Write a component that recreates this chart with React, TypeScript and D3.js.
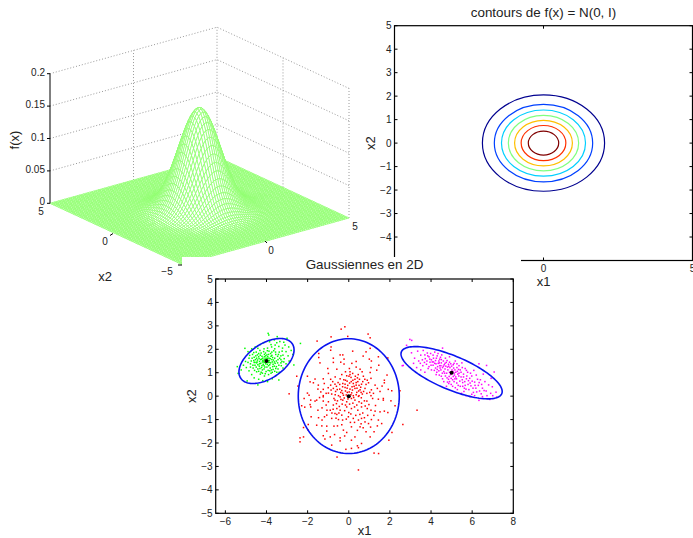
import React from 'react';
import * as d3 from 'd3';

const WIDTH = 693;
const HEIGHT = 538;
const FONT = '"Liberation Sans", Arial, sans-serif';

// surface grid: x1 and x2 run over -5..5, step 0.125, f(x1, x2) = g(|x1|) * g(|x2|)
const gridHalf = [0, 0.125, 0.25, 0.375, 0.5, 0.625, 0.75, 0.875, 1, 1.125, 1.25, 1.375, 1.5, 1.625, 1.75, 1.875, 2, 2.125, 2.25, 2.375, 2.5, 2.625, 2.75, 2.875, 3, 3.125, 3.25, 3.375, 3.5, 3.625, 3.75, 3.875, 4, 4.125, 4.25, 4.375, 4.5, 4.625, 4.75, 4.875, 5];
const profile = [0.3989, 0.3958, 0.3866, 0.3718, 0.3521, 0.3282, 0.3011, 0.2721, 0.242, 0.2119, 0.1826, 0.155, 0.1295, 0.1065, 0.0863, 0.0688, 0.054, 0.0417, 0.0317, 0.0238, 0.0175, 0.0127, 0.0091, 0.0064, 0.0044, 0.003, 0.002, 0.0013, 0.0009, 0.0006, 0.0004, 0.0002, 0.0001, 0.0001, 0, 0, 0, 0, 0, 0, 0];
const zTicks = [0, 0.05, 0.1, 0.15, 0.2];
const zLabels = ['0', '0.05', '0.1', '0.15', '0.2'];

// contour levels, outermost first
const contourRadii = [2.05, 1.65, 1.41, 1.18, 0.97, 0.75, 0.51];
const contourColors = ['#00008f', '#0040ff', '#00cfff', '#80ff80', '#ffbf00', '#ff3000', '#800000'];
// ticks at -5 sit under the pasted third figure
const contourYTicks = [-4, -3, -2, -1, 0, 1, 2, 3, 4, 5];
const contourXTicks = [0, 5];

// gaussians: mean, half extents of the blue ellipse, correlation
const means = [[-4, 1.5], [0, 0], [5, 1]];
const ellipseDx = [1.34, 2.456, 2.46];
const ellipseDy = [0.96, 2.45, 1.115];
const ellipseRho = [0.49, 0, -0.72];
const scatterXTicks = [-6, -4, -2, 0, 2, 4, 6, 8];
const scatterYTicks = [-5, -4, -3, -2, -1, 0, 1, 2, 3, 4, 5];

const greenPoints = [
  [-3.92, 2.68], [-3.89, 2.61], [-5.05, 2.04], [-5.42, 1.26], [-5.23, 1.12], [-5.38, 0.97], [-4.94, 0.65], [-4.42, 0.48], [-3.4, 0.69], [-3.48, 2.54], [-3, 2.47], [-2.35, 2.25], [-2.67, 1.33], [-3.16, 2.3],
  [-4.9, 1.9], [-4.72, 2.02], [-4.55, 2.1], [-4.3, 2.2], [-4.15, 2.28], [-3.85, 2.32], [-3.62, 2.4], [-3.35, 2.33], [-3.1, 2.18], [-2.92, 2.1], [-2.8, 1.95], [-2.72, 1.78], [-2.95, 1.72], [-3.05, 1.9], [-3.22, 2.05], [-3.4, 2.12], [-3.58, 2.18], [-3.75, 2.1], [-3.95, 2.05], [-4.12, 2.02], [-4.32, 1.95], [-4.5, 1.88], [-4.68, 1.78], [-4.85, 1.62], [-5.02, 1.48], [-5.12, 1.32],
  [-4.98, 1.22], [-4.85, 1.08], [-4.72, 0.92], [-4.6, 0.78], [-4.38, 0.72], [-4.18, 0.66], [-3.95, 0.62], [-3.72, 0.74], [-3.55, 0.88], [-3.38, 1.02], [-3.2, 1.2], [-3.05, 1.38], [-3.25, 1.48], [-3.4, 1.32], [-3.55, 1.18], [-3.72, 1.02], [-3.9, 0.92], [-4.1, 0.86], [-4.3, 0.94], [-4.48, 1.04],
  [-4.65, 1.2], [-4.78, 1.38], [-4.62, 1.52], [-4.48, 1.42], [-4.35, 1.28], [-4.2, 1.12], [-4.02, 1.05], [-3.82, 1.2], [-3.68, 1.36], [-3.52, 1.5], [-3.36, 1.62], [-3.2, 1.75], [-3.38, 1.88], [-3.55, 1.78], [-3.7, 1.65], [-3.86, 1.52], [-4.04, 1.38], [-4.2, 1.46], [-4.36, 1.6], [-4.52, 1.72],
  [-4.38, 1.82], [-4.22, 1.7], [-4.08, 1.58], [-3.94, 1.68], [-3.8, 1.82], [-3.65, 1.94], [-3.88, 1.92], [-4.05, 1.84], [-4.18, 1.52], [-4.28, 1.4], [-4.12, 1.3], [-3.98, 1.24], [-3.84, 1.34], [-3.72, 1.46], [-3.9, 1.44], [-4.08, 1.44], [-4.24, 1.58], [-4.44, 1.54], [-4.56, 1.32], [-4.42, 1.16],
  [-4.26, 1.02], [-4.12, 1.16], [-3.92, 1.1], [-3.78, 0.98], [-3.62, 1.28], [-3.46, 1.42], [-3.3, 1.56], [-3.14, 1.6], [-4.7, 1.62], [-4.9, 1.44], [-4.78, 1.24], [-4.58, 1.1], [-3.98, 1.76], [-4.14, 1.9], [-3.74, 1.74], [-3.6, 1.62], [-4.02, 1.5], [-3.96, 1.6], [-4.1, 1.68], [-4.3, 1.75],
  [-3.82, 1.6], [-4.16, 1.36], [-4.34, 1.48], [-4.48, 1.62], [-3.76, 1.12], [-3.5, 1.02], [-3.28, 1.3], [-3.46, 1.7], [-3.24, 1.92], [-3.6, 2.02],
  [-4.6, 1.44], [-4.54, 1.56], [-4.42, 1.34], [-4.32, 1.18], [-4.22, 1.3], [-4.14, 1.46], [-4.02, 1.62], [-3.9, 1.78], [-3.78, 1.7], [-3.9, 1.3], [-3.8, 1.42], [-3.66, 1.54], [-3.58, 1.4], [-3.44, 1.56], [-3.52, 1.26], [-3.68, 1.14], [-3.84, 1.08], [-4.06, 0.96], [-4.2, 0.98], [-4.38, 1.06],
  [-4.5, 1.24], [-4.66, 1.32], [-4.74, 1.5], [-4.6, 1.66], [-4.44, 1.76], [-4.26, 1.84], [-4.1, 1.78], [-3.96, 1.94], [-3.74, 1.88], [-3.56, 1.88], [-3.42, 1.78], [-3.3, 1.72], [-3.16, 1.46], [-3.3, 1.42], [-4.28, 1.56], [-4.18, 1.62], [-4.04, 1.72], [-3.88, 1.62], [-3.74, 1.56], [-3.62, 1.46],
  [-4.34, 1.38], [-4.24, 1.22], [-4.08, 1.24], [-3.96, 1.36], [-3.86, 1.44], [-4.46, 1.46], [-4.38, 1.68], [-4.56, 1.44], [-4.12, 1.54], [-4.0, 1.44], [-3.92, 1.52], [-3.7, 1.26], [-3.44, 1.16], [-3.6, 1.06], [-4.82, 1.74], [-4.62, 1.86], [-4.42, 2.04], [-3.78, 2.2], [-3.5, 2.28], [-2.9, 1.5]
];

const redPoints = [
  [-0.37, 2.86], [-0.19, 2.96], [-0.05, 2.55], [-0.86, 2.53], [-1.54, 2.35], [0.94, 2.65], [1.04, 2.49], [-0.86, 2.1], [-0.88, 1.96], [0.19, 1.92], [1.04, 2.04], [0.84, 1.89], [-1.46, 1.82], [-1.46, 1.65], [-0.42, 1.76], [-0.29, 1.76], [0.7, 1.71], [1.44, 1.68], [-0.75, 1.62], [-0.23, 1.58], [1, 1.58], [1.9, 1.63],
  [-1.4, 1.42], [-0.75, 1.44], [-0.39, 1.45], [-0.23, 1.37], [0.15, 1.4], [0.36, 1.48], [1.1, 1.5], [1.46, 1.32], [-1.02, 1.18], [-0.58, 1.15], [0.03, 1.18], [0.36, 1.24], [0.55, 1.15], [1.08, 1.22], [1.36, 1.11], [-0.16, 1.04], [0.06, 1.04], [0.19, 0.97], [0.65, 1.04], [1.04, 1.01], [-0.99, 0.97], [1.86, 0.9],
  [-2.53, 0.85], [-2.01, 0.85], [-0.1, 0.87], [0.01, 0.85], [0.32, 0.85], [0.71, 0.85], [-1.64, 0.73], [-1.88, 0.61], [-1.72, 0.57], [-1.24, 0.74], [-0.88, 0.72], [-0.42, 0.74], [-0.16, 0.68], [0.11, 0.8], [0.52, 0.72], [1.08, 0.76], [1.73, 0.68], [1.73, 0.57], [-1.19, 0.54], [-1.48, 0.47], [-0.88, 0.47], [-0.67, 0.51],
  [-0.29, 0.54], [-0.18, 0.51], [0.22, 0.54], [0.36, 0.47], [0.62, 0.51], [0.96, 0.57], [1.28, 0.47], [1.62, 0.43], [-2.47, 0.43], [-1.24, 0.29], [-0.75, 0.33], [-0.44, 0.3], [-0.18, 0.37], [0.06, 0.3], [0.3, 0.33], [0.55, 0.27], [0.79, 0.33], [1.1, 0.27], [1.39, 0.33], [1.92, 0.29], [2.49, 0.23], [2.09, 0.23],
  [1.52, 0.2], [-0.64, 0.2], [-0.99, 0.13], [-0.39, 0.16], [-0.07, 0.16], [0.39, 0.16], [0.66, 0.09], [-2.01, 0.13], [-1.93, 0.04], [-1.24, 0.02], [-0.83, 0.09], [-0.5, 0.02], [-0.26, 0.04], [0.22, 0.02], [0.47, -0.01], [1.68, -0.1], [1.08, 0.02], [-2.9, 0.1],
  [-2.17, -0.1], [-2.29, -0.41], [-2.14, -0.47], [-1.85, -0.17], [-1.88, -0.36], [-1.64, -0.21], [-1.56, -0.17], [-1.85, -0.46], [-1.24, -0.03], [-1.24, -0.21], [-0.99, -0.24], [-0.67, -0.17], [-0.42, -0.03], [-0.29, -0.17], [-0.1, -0.24], [0.13, -0.1], [0.3, -0.17], [0.61, -0.07], [0.88, -0.21], [1.16, -0.1], [1.44, -0.13], [1.68, -0.17], [2.05, -0.2], [2.25, -0.41],
  [-1.06, -0.6], [-0.9, -0.6], [-0.75, -0.38], [-0.58, -0.53], [-0.42, -0.6], [-0.67, -0.74], [-0.34, -0.81], [-0.1, -0.46], [0.13, -0.53], [0.39, -0.38], [0.62, -0.46], [0.9, -0.53], [1.08, -0.6], [1.28, -0.64], [1.52, -0.67], [1.73, -0.64], [1.9, -0.7], [1.1, -1], [1.44, -1.02], [-1.83, -0.88], [-1.47, -0.92], [-1.18, -0.88], [-1.07, -0.81], [-0.83, -0.95], [-0.58, -0.78], [-0.5, -1], [-0.3, -1.02], [-0.02, -0.88], [0.22, -0.95], [0.47, -1.02], [0.62, -0.95], [0.79, -1.1],
  [-1.56, -1.24], [-1.31, -1.27], [-1.07, -1.28], [-1.97, -1.21], [-2.2, -1.34], [-0.55, -1.27], [-0.26, -1.45], [0.13, -1.31], [0.55, -1.31], [0.7, -1.35], [0.96, -1.17], [1.39, -1.27], [1.6, -1.17], [2.1, -1.55], [2.63, -1.21], [-1.97, -1.45], [-1.07, -1.49], [-0.9, -1.74], [-0.69, -1.64], [-0.42, -1.78], [-0.1, -1.55], [0.3, -1.74], [1.04, -1.74], [1.23, -1.52], [-2.37, -1.78], [-2.2, -1.74], [-2.37, -1.95], [-1.24, -1.69], [-1.16, -1.83], [0.13, -1.88], [-0.83, -2.09], [-0.42, -1.91], [0.42, -2.12], [0.47, -2.2], [0.62, -2.02], [-0.14, -2.27], [0.13, -2.23], [1.95, -1.88], [1.23, -2.43], [1.45, -2.45], [-0.57, -2.6], [0.47, -3.15], [3.32, -0.6],
  [-0.6, 0.42], [-0.52, 0.58], [-0.34, 0.24], [-0.12, 0.05], [0.14, 0.14], [0.26, 0.42], [0.44, 0.62], [0.58, 0.38], [0.72, 0.2], [0.84, 0.5], [0.12, 0.62], [-0.05, 0.46], [-0.24, 0.7], [0.3, 0.72], [0.46, 0.92], [0.06, 0.92], [-0.34, 0.92], [0.9, 0.68], [-0.78, 0.62], [-1, 0.36], [-0.55, -0.2], [-0.32, -0.34], [-0.46, -0.44], [-0.2, -0.62], [0, -0.7], [0.2, -0.3], [0.44, -0.6], [0.68, -0.72], [0.92, -0.82], [-0.76, -0.56], [-0.62, -0.94], [-0.34, -1.22], [0.28, -1.12], [0.6, -1.18], [0.76, -0.2], [0.98, -0.36], [1.3, -0.4], [-1.42, -0.06], [-1.5, -0.6], [-1.3, -1.02],
  [-0.16, 0.22], [-0.3, 0.12], [-0.22, -0.08], [-0.04, -0.12], [0.1, 0.06], [0.24, -0.06], [0.36, 0.06], [0.48, 0.22], [0.4, 0.34], [0.18, 0.26], [0.02, 0.18], [-0.08, 0.34], [-0.3, 0.4], [-0.44, 0.5], [-0.56, 0.28], [-0.66, 0.06], [-0.72, -0.1], [-0.6, -0.32], [-0.38, -0.14], [-0.16, -0.38],
  [0.04, -0.34], [0.28, -0.46], [0.5, -0.24], [0.62, -0.3], [0.8, -0.42], [0.5, 0.02], [0.6, 0.16], [0.88, 0.12], [1.02, 0.16], [1.2, 0.12], [0.16, 0.4], [0.2, 0.68], [0.04, 0.56], [-0.08, 0.64], [0.36, 0.58], [0.5, 0.46], [0.68, 0.62], [0.78, 0.72], [0.42, 0.78], [-0.66, 0.82],
  [-0.86, 0.26], [-1.1, 0.12], [-1.36, 0.18], [-1.5, 0.3], [-1.1, -0.38], [-1.3, -0.5], [-0.82, -0.72], [-0.48, -0.72], [-0.12, -0.98], [0.1, -0.76], [0.34, -0.82], [0.54, -0.78], [0.76, -0.92], [1.22, -0.82], [1.06, -1.32], [0.84, -1.52], [0.42, -1.46], [0.08, -1.12], [-0.2, -1.7], [-0.72, -1.28]
];

const magentaPoints = [
  [2.97, 2.42], [3.06, 2.38], [2.81, 2.17], [4.56, 2.05], [2.65, 1.31], [2.6, 1.3], [6.33, -0.18], [6.86, -0.14], [7.19, -0.04], [7.07, 1.03], [7.16, 0.17], [6.7, 1.31], [6.33, 1.38],
  [3.05, 1.85], [3.2, 1.62], [3.35, 1.92], [3.5, 1.75], [3.4, 1.5], [3.15, 1.4], [3.6, 1.3], [3.62, 1.95], [3.82, 1.84], [3.72, 1.6], [3.58, 1.55], [3.9, 1.68], [3.95, 1.45], [3.78, 1.36], [3.86, 1.18], [4.02, 1.55], [4.1, 1.75], [4.18, 1.88], [4.3, 1.72], [4.22, 1.52], [4.1, 1.32], [4.02, 1.12], [4.22, 1.2], [4.35, 1.4], [4.42, 1.58], [4.52, 1.76], [4.6, 1.5], [4.48, 1.3], [4.38, 1.08], [4.25, 0.92], [4.5, 0.85], [4.62, 1.05], [4.72, 1.28], [4.78, 1.52], [4.9, 1.68], [4.85, 1.36], [4.82, 1.12],
  [4.7, 0.86], [4.62, 0.62], [4.85, 0.72], [4.95, 0.92], [5.02, 1.12], [5.08, 1.34], [5.18, 1.5], [5.12, 0.98], [5.05, 0.7], [4.98, 0.5], [5.2, 0.82], [5.28, 1.06], [5.36, 1.3], [5.5, 1.42], [5.42, 1.12], [5.35, 0.86], [5.25, 0.56], [5.18, 0.36], [5.42, 0.42], [5.52, 0.7], [5.58, 0.94], [5.66, 1.18], [5.78, 1.02], [5.72, 0.74], [5.66, 0.46], [5.6, 0.2], [5.84, 0.28], [5.9, 0.56], [5.98, 0.86], [6.08, 1.1], [6.2, 0.9], [6.12, 0.6], [6.04, 0.34], [5.98, 0.08], [6.22, 0.18], [6.3, 0.46], [6.4, 0.7], [6.54, 0.94], [6.62, 0.62], [6.5, 0.34], [6.44, 0.1],
  [6.68, 0.22], [6.8, 0.48], [6.92, 0.76], [6.98, 0.4], [6.9, 0.12], [5.1, 1.2], [4.92, 1.22], [5.2, 1.02], [5.3, 0.94], [5.08, 0.84], [4.88, 0.84], [4.76, 0.98], [4.68, 1.16], [4.56, 1.22], [4.44, 1.2], [4.32, 1.26], [4.18, 1.4], [4.06, 1.46], [3.94, 1.58], [3.8, 1.5], [3.68, 1.44], [4.5, 1.42], [4.68, 1.4], [4.9, 1.45], [5.0, 1.28], [5.14, 0.9], [5.34, 1.14], [5.46, 0.82], [5.54, 0.58], [5.74, 0.86], [5.82, 0.66], [5.94, 0.44], [6.14, 0.46], [6.26, 0.72],
  [4.8, 0.6], [4.55, 0.98], [4.4, 0.9], [4.3, 1.14], [5.4, 0.64], [5.62, 0.34], [5.28, 0.28], [5.05, 0.42], [4.75, 0.42], [3.3, 1.22], [3.5, 1.12], [3.7, 1.02], [6.36, 0.22], [6.72, 0.02], [6.5, -0.02], [6.12, 0.02], [5.9, -0.02], [5.7, 0.02], [5.48, 0.12], [7.0, 0.02],
  [3.84, 1.72], [3.98, 1.82], [4.12, 1.62], [4.26, 1.62], [4.38, 1.5], [4.5, 1.56], [4.64, 1.34], [4.74, 1.44], [4.86, 1.28], [4.96, 1.38], [5.06, 1.06], [5.16, 1.12], [5.26, 1.22], [4.98, 0.76], [4.9, 1.02], [4.8, 1.24], [4.6, 1.28], [4.4, 1.42], [4.16, 1.1], [4.28, 1.02],
  [4.48, 1.12], [4.66, 0.98], [4.78, 0.78], [4.9, 0.62], [5.12, 0.62], [5.24, 0.74], [5.36, 0.98], [5.46, 1.02], [5.58, 0.82], [5.64, 0.62], [5.8, 0.5], [5.88, 0.76], [6.0, 0.64], [5.92, 0.98], [5.72, 1.1], [5.26, 1.38], [5.12, 1.4], [5.0, 0.98], [5.16, 0.74], [5.32, 0.46],
  [6.06, 0.16], [6.18, 0.34], [6.34, 0.58], [6.46, 0.5], [6.58, 0.24], [4.12, 1.46], [4.0, 1.32], [3.9, 1.26], [4.34, 1.82], [4.46, 1.66], [4.7, 1.62], [4.56, 0.74], [4.42, 1.3], [4.24, 1.38], [3.7, 1.76], [3.48, 1.4], [5.52, 1.22], [5.7, 0.3], [5.54, 0.42], [4.86, 0.54]
];

// 3D box corners in page pixels
const frontCorner = [182, 264.5];
const rightCorner = [349, 218];
const leftCorner = [50, 203.3];
const zPixels = 129.6;

const x1Unit = d3.scaleLinear().domain([-5, 5]).range([0, 1]);
const x2Unit = d3.scaleLinear().domain([-5, 5]).range([0, 1]);
const zPx = d3.scaleLinear().domain([0, 0.2]).range([0, zPixels]);

const project = (x1: number, x2: number, z: number): [number, number] => {
  const a = x1Unit(x1);
  const b = x2Unit(x2);
  return [
    frontCorner[0] + a * (rightCorner[0] - frontCorner[0]) + b * (leftCorner[0] - frontCorner[0]),
    frontCorner[1] + a * (rightCorner[1] - frontCorner[1]) + b * (leftCorner[1] - frontCorner[1]) - zPx(z),
  ];
};

const grid = [...gridHalf.slice(1).reverse().map(v => -v), ...gridHalf];
const gridF = [...profile.slice(1).reverse(), ...profile];

const closedLine = d3.line().curve(d3.curveLinearClosed);

const Surface = () => {
  // back to front, so nearer cells hide what is behind them
  const cells: string[] = [];
  for (let i = grid.length - 2; i >= 0; i--) {
    for (let j = grid.length - 2; j >= 0; j--) {
      const corners = [[i, j], [i + 1, j], [i + 1, j + 1], [i, j + 1]].map(([a, b]) =>
        project(grid[a], grid[b], gridF[a] * gridF[b]));
      cells.push(closedLine(corners) as string);
    }
  }
  return (
    <g fill="#fff" stroke="#90ff70" strokeWidth={0.8}>
      {cells.map((d, i) => <path key={i} d={d} />)}
    </g>
  );
};

const Walls = () => {
  const dotted = { stroke: '#9a9a9a', strokeWidth: 1, strokeDasharray: '1 2', fill: 'none' };
  const wall = (pts: [number, number][], key: string) => (
    <path key={key} d={d3.line()(pts) as string} {...dotted} />
  );
  return (
    <g>
      {zTicks.filter(z => z > 0).map(z => wall([project(-5, 5, z), project(5, 5, z), project(5, -5, z)], `z${z}`))}
      {wall([project(0, 5, 0), project(0, 5, 0.2)], 'b')}
      {wall([project(5, 5, 0), project(5, 5, 0.2)], 'c')}
      {wall([project(5, 0, 0), project(5, 0, 0.2)], 'd')}
      {wall([project(5, -5, 0), project(5, -5, 0.2)], 'e')}
    </g>
  );
};

const textStyle = { fontFamily: FONT, fill: '#222' };
const minus = (v: number) => (v < 0 ? `\u2212${-v}` : `${v}`);

const Plot3D = () => {
  const [zx] = project(-5, 5, 0);
  return (
    <g>
      <Walls />
      <Surface />
      <line x1={zx} x2={zx} y1={project(-5, 5, 0.2)[1]} y2={project(-5, 5, 0)[1]} stroke="#000" strokeWidth={1} />
      {zTicks.map((z, i) => {
        const [, y] = project(-5, 5, z);
        return (
          <g key={z}>
            <line x1={zx - 3} x2={zx} y1={y} y2={y} stroke="#000" />
            <text x={zx - 5} y={y + 2} textAnchor="end" fontSize={10} style={textStyle}>{zLabels[i]}</text>
          </g>
        );
      })}
      <text transform="translate(19,140) rotate(-90)" textAnchor="middle" fontSize={13} style={textStyle}>f(x)</text>
      <text x={41} y={215} textAnchor="middle" fontSize={10} style={textStyle}>5</text>
      <text x={105} y={245} textAnchor="middle" fontSize={10} style={textStyle}>0</text>
      <text x={167} y={275} textAnchor="middle" fontSize={10} style={textStyle}>{minus(-5)}</text>
      <text x={271} y={254} textAnchor="middle" fontSize={10} style={textStyle}>0</text>
      <text x={355} y={230} textAnchor="middle" fontSize={10} style={textStyle}>5</text>
      <text x={105} y={281} textAnchor="middle" fontSize={13} style={textStyle}>x2</text>
      <line x1={110} x2={113} y1={235.5} y2={233.5} stroke="#000" />
      <line x1={265} x2={267} y1={241} y2={243} stroke="#000" />
      <line x1={178} x2={182} y1={265} y2={265} stroke="#000" />
    </g>
  );
};

type BoxProps = {
  x: d3.ScaleLinear<number, number>;
  y: d3.ScaleLinear<number, number>;
  xTicks: number[];
  yTicks: number[];
  title: string;
  titleY: number;
  xLabelY: number;
  xTickY: number;
  yLabelX: number;
};

// MATLAB style box: ticks point inward on all four sides
const Box = ({ x, y, xTicks, yTicks, title, titleY, xLabelY, xTickY, yLabelX }: BoxProps) => {
  const [x0, x1] = x.range();
  const [y0, y1] = y.range();
  const cx = (x0 + x1) / 2;
  const cy = (y0 + y1) / 2;
  return (
    <g>
      <rect x={x0} y={y1} width={x1 - x0} height={y0 - y1} fill="none" stroke="#000" strokeWidth={1.2} />
      {xTicks.map(t => (
        <g key={t}>
          <line x1={x(t)} x2={x(t)} y1={y0} y2={y0 - 3} stroke="#000" />
          <line x1={x(t)} x2={x(t)} y1={y1} y2={y1 + 3} stroke="#000" />
          <text x={x(t)} y={xTickY} textAnchor="middle" fontSize={10} style={textStyle}>{minus(t)}</text>
        </g>
      ))}
      {yTicks.map(t => (
        <g key={t}>
          <line x1={x0} x2={x0 + 3} y1={y(t)} y2={y(t)} stroke="#000" />
          <line x1={x1} x2={x1 - 3} y1={y(t)} y2={y(t)} stroke="#000" />
          <text x={x0 - 3} y={y(t) + 3.5} textAnchor="end" fontSize={10} style={textStyle}>{minus(t)}</text>
        </g>
      ))}
      <text x={cx} y={titleY} textAnchor="middle" fontSize={13.4} style={textStyle}>{title}</text>
      <text x={cx} y={xLabelY} textAnchor="middle" fontSize={13} style={textStyle}>x1</text>
      <text transform={`translate(${yLabelX},${cy}) rotate(-90)`} textAnchor="middle" fontSize={13} style={textStyle}>x2</text>
    </g>
  );
};

const ContourPlot = () => {
  const x = d3.scaleLinear().domain([-5, 5]).range([394.5, 692.5]);
  const y = d3.scaleLinear().domain([-5, 5]).range([260.5, 25.7]);
  return (
    <g>
      <Box x={x} y={y} xTicks={contourXTicks} yTicks={contourYTicks} title="contours de f(x) = N(0, I)"
        titleY={17} xLabelY={286} xTickY={272} yLabelX={375} />
      {contourRadii.map((r, i) => (
        <ellipse key={r} cx={x(0)} cy={y(0)} rx={x(r) - x(0)} ry={y(0) - y(r)}
          fill="none" stroke={contourColors[i]} strokeWidth={1.2} />
      ))}
    </g>
  );
};

const ScatterPlot = () => {
  const x = d3.scaleLinear().domain([-6.47, 8]).range([215.7, 513.3]);
  const y = d3.scaleLinear().domain([-5, 5]).range([513.3, 279]);
  const angles = d3.range(0, 2 * Math.PI, Math.PI / 60);
  const ellipsePath = (k: number) => {
    const alpha = Math.asin(ellipseRho[k]);
    return closedLine(angles.map(t => [
      x(means[k][0] + ellipseDx[k] * Math.cos(t)),
      y(means[k][1] + ellipseDy[k] * Math.sin(t + alpha)),
    ] as [number, number])) as string;
  };
  const series: [number[][], string][] = [[greenPoints, '#00ff00'], [redPoints, '#ff0000'], [magentaPoints, '#ff00ff']];
  return (
    <g>
      <Box x={x} y={y} xTicks={scatterXTicks} yTicks={scatterYTicks} title="Gaussiennes en 2D"
        titleY={269} xLabelY={535} xTickY={525} yLabelX={196} />
      {series.map(([pts, color]) => (
        <g key={color} fill={color}>
          {pts.map((p, i) => <rect key={i} x={x(p[0]) - 0.75} y={y(p[1]) - 0.75} width={1.5} height={1.5} />)}
        </g>
      ))}
      {means.map((_, k) => (
        <path key={k} d={ellipsePath(k)} fill="none" stroke="#0a14f0" strokeWidth={1.6} />
      ))}
      {means.map((m, k) => <circle key={k} cx={x(m[0])} cy={y(m[1])} r={2} fill="#000" />)}
    </g>
  );
};

export default function App() {
  return (
    <svg width={WIDTH} height={HEIGHT} style={{ position: 'absolute', left: 0, top: 0, background: '#fff' }}>
      <Plot3D />
      <ContourPlot />
      {/* the third figure is pasted over the other two with its white background */}
      <rect x={182} y={257} width={339} height={281} fill="#fff" />
      <ScatterPlot />
    </svg>
  );
}
